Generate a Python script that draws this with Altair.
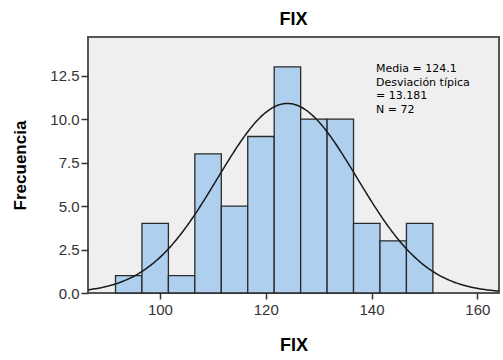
import altair as alt
import pandas as pd

# Histogram data
bin_start = [91.6, 96.6, 101.6, 106.6, 111.6, 116.6, 121.6, 126.6, 131.6, 136.6, 141.6, 146.6]
bin_end = [96.6, 101.6, 106.6, 111.6, 116.6, 121.6, 126.6, 131.6, 136.6, 141.6, 146.6, 151.6]
counts = [1, 4, 1, 8, 5, 9, 13, 10, 10, 4, 3, 4]

mean_val = 124.1
sd_val = 13.181
n_val = 72
bin_width = 5.0

x_ticks = [100, 120, 140, 160]
y_ticks = [0, 2.5, 5.0, 7.5, 10.0, 12.5]
stats_lines = ["Media = 124.1", "Desviación típica", "= 13.181", "N = 72"]

X_DOMAIN = [86.4, 164.1]
Y_DOMAIN = [0, 14.72]

df = pd.DataFrame({"start": bin_start, "end": bin_end, "count": counts})

xscale = alt.Scale(domain=X_DOMAIN, nice=False, zero=False)
yscale = alt.Scale(domain=Y_DOMAIN, nice=False)

axis_x = alt.Axis(values=x_ticks, grid=False, domain=False, tickColor="#333", tickSize=6,
                  tickWidth=1.5, labelFontSize=15, labelColor="#333", labelFont="Liberation Sans",
                  labelPadding=3, title="FIX", titleFontSize=18, titleFont="Liberation Sans",
                  titleFontWeight="bold", titleColor="#000", titlePadding=19)
axis_y = alt.Axis(values=y_ticks, format=".1f", grid=False, domain=False, tickColor="#333", tickSize=7,
                  tickWidth=1.5, labelFontSize=15, labelColor="#333", labelFont="Liberation Sans",
                  labelPadding=2, title="Frecuencia", titleFontSize=17, titleFont="Liberation Sans",
                  titleFontWeight="bold", titleColor="#000", titlePadding=20)

bars = alt.Chart(df).mark_rect(fill="#aed0ee", stroke="#2a2a2a", strokeWidth=1.3).encode(
    x=alt.X("start:Q", scale=xscale, axis=axis_x),
    x2="end:Q",
    y=alt.Y("count:Q", scale=yscale, axis=axis_y),
    y2=alt.datum(0),
)

curve = alt.Chart(alt.sequence(X_DOMAIN[0], X_DOMAIN[1] + 0.25, 0.25, as_="x")).transform_calculate(
    y=f"{n_val}*{bin_width}*exp(-0.5*pow((datum.x-{mean_val})/{sd_val},2))/({sd_val}*sqrt(2*PI))"
).mark_line(color="#1a1a1a", strokeWidth=1.5, clip=True).encode(
    x=alt.X("x:Q", scale=xscale),
    y=alt.Y("y:Q", scale=yscale),
)

stats_df = pd.DataFrame({"t": [stats_lines]})
stats = alt.Chart(stats_df).mark_text(
    align="left", baseline="top", font="DejaVu Sans", fontSize=11, lineHeight=13.5, color="#000"
).encode(x=alt.value(288), y=alt.value(26), text="t")

chart = alt.layer(bars, curve, stats).properties(
    width=411, height=256,
    title=alt.TitleParams("FIX", fontSize=18, font="Liberation Sans", fontWeight="bold", color="#000",
                          anchor="middle", offset=8),
    autosize=alt.AutoSizeParams(type="none"),
    padding={"left": 88, "top": 37, "right": 4, "bottom": 67},
    background="white",
).configure_view(fill="#efefef", stroke="#555", strokeWidth=2)

chart.save("out.html", embed_options={"renderer": "svg", "actions": False})
